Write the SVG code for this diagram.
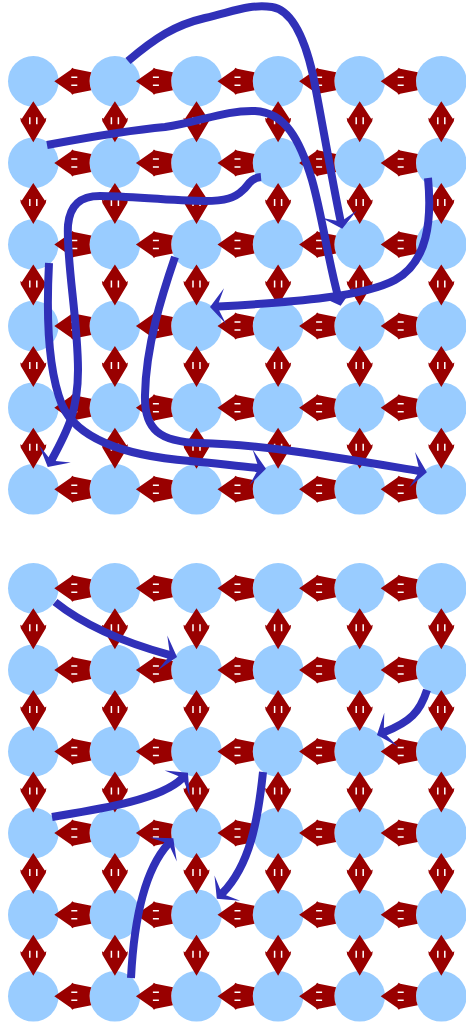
<svg xmlns="http://www.w3.org/2000/svg" width="466" height="1023" viewBox="0 0 466 1023">
<style>
.n{fill:#99ccff}
.ar{fill:#990000}
.wd{stroke:#ffffff;stroke-width:1.5;fill:none}
.c{fill:none;stroke:#3030b8;stroke-width:8;marker-end:url(#ah)}
</style>
<defs>
<marker id="ah" viewBox="-20 -20 40 40" markerWidth="40" markerHeight="40" refX="0" refY="0" orient="auto" markerUnits="userSpaceOnUse">
<path d="M8,0 L-7,-18 L-1,-4 L-1,4 L-7,18 Z" fill="#3030b8"/>
</marker>
<g id="ha"><path class="ar" d="M21,0 L37.5,-11.5 L39,-13.5 L40.5,-12.5 L58,-9 A25.3,25.3 0 0 0 58,9 L40.5,12.5 L39,13.5 L37.5,11.5 Z"/><path class="wd" d="M38,-4h6M38,4h6"/></g>
<g id="va"><path class="ar" d="M0,20 L-11.5,37.5 L-13,36.5 L-12.5,40 L0,61 L12.5,40 L13,36.5 L11.5,37.5 Z"/><path class="wd" d="M-3.5,36v7M3.5,36v7"/></g>
</defs>
<rect width="466" height="1023" fill="#ffffff"/>
<g id="nodes-top">
<g id="t11"><circle class="n" cx="33.3" cy="81.3" r="25.3"/></g>
<g id="t12"><circle class="n" cx="114.9" cy="81.3" r="25.3"/></g>
<g id="t13"><circle class="n" cx="196.5" cy="81.3" r="25.3"/></g>
<g id="t14"><circle class="n" cx="278.1" cy="81.3" r="25.3"/></g>
<g id="t15"><circle class="n" cx="359.7" cy="81.3" r="25.3"/></g>
<g id="t16"><circle class="n" cx="441.3" cy="81.3" r="25.3"/></g>
<g id="t21"><circle class="n" cx="33.3" cy="162.9" r="25.3"/></g>
<g id="t22"><circle class="n" cx="114.9" cy="162.9" r="25.3"/></g>
<g id="t23"><circle class="n" cx="196.5" cy="162.9" r="25.3"/></g>
<g id="t24"><circle class="n" cx="278.1" cy="162.9" r="25.3"/></g>
<g id="t25"><circle class="n" cx="359.7" cy="162.9" r="25.3"/></g>
<g id="t26"><circle class="n" cx="441.3" cy="162.9" r="25.3"/></g>
<g id="t31"><circle class="n" cx="33.3" cy="244.5" r="25.3"/></g>
<g id="t32"><circle class="n" cx="114.9" cy="244.5" r="25.3"/></g>
<g id="t33"><circle class="n" cx="196.5" cy="244.5" r="25.3"/></g>
<g id="t34"><circle class="n" cx="278.1" cy="244.5" r="25.3"/></g>
<g id="t35"><circle class="n" cx="359.7" cy="244.5" r="25.3"/></g>
<g id="t36"><circle class="n" cx="441.3" cy="244.5" r="25.3"/></g>
<g id="t41"><circle class="n" cx="33.3" cy="326.1" r="25.3"/></g>
<g id="t42"><circle class="n" cx="114.9" cy="326.1" r="25.3"/></g>
<g id="t43"><circle class="n" cx="196.5" cy="326.1" r="25.3"/></g>
<g id="t44"><circle class="n" cx="278.1" cy="326.1" r="25.3"/></g>
<g id="t45"><circle class="n" cx="359.7" cy="326.1" r="25.3"/></g>
<g id="t46"><circle class="n" cx="441.3" cy="326.1" r="25.3"/></g>
<g id="t51"><circle class="n" cx="33.3" cy="407.7" r="25.3"/></g>
<g id="t52"><circle class="n" cx="114.9" cy="407.7" r="25.3"/></g>
<g id="t53"><circle class="n" cx="196.5" cy="407.7" r="25.3"/></g>
<g id="t54"><circle class="n" cx="278.1" cy="407.7" r="25.3"/></g>
<g id="t55"><circle class="n" cx="359.7" cy="407.7" r="25.3"/></g>
<g id="t56"><circle class="n" cx="441.3" cy="407.7" r="25.3"/></g>
<g id="t61"><circle class="n" cx="33.3" cy="489.3" r="25.3"/></g>
<g id="t62"><circle class="n" cx="114.9" cy="489.3" r="25.3"/></g>
<g id="t63"><circle class="n" cx="196.5" cy="489.3" r="25.3"/></g>
<g id="t64"><circle class="n" cx="278.1" cy="489.3" r="25.3"/></g>
<g id="t65"><circle class="n" cx="359.7" cy="489.3" r="25.3"/></g>
<g id="t66"><circle class="n" cx="441.3" cy="489.3" r="25.3"/></g>
</g>
<g id="nodes-bottom">
<g id="b11"><circle class="n" cx="33.3" cy="588.3" r="25.3"/></g>
<g id="b12"><circle class="n" cx="114.9" cy="588.3" r="25.3"/></g>
<g id="b13"><circle class="n" cx="196.5" cy="588.3" r="25.3"/></g>
<g id="b14"><circle class="n" cx="278.1" cy="588.3" r="25.3"/></g>
<g id="b15"><circle class="n" cx="359.7" cy="588.3" r="25.3"/></g>
<g id="b16"><circle class="n" cx="441.3" cy="588.3" r="25.3"/></g>
<g id="b21"><circle class="n" cx="33.3" cy="669.9" r="25.3"/></g>
<g id="b22"><circle class="n" cx="114.9" cy="669.9" r="25.3"/></g>
<g id="b23"><circle class="n" cx="196.5" cy="669.9" r="25.3"/></g>
<g id="b24"><circle class="n" cx="278.1" cy="669.9" r="25.3"/></g>
<g id="b25"><circle class="n" cx="359.7" cy="669.9" r="25.3"/></g>
<g id="b26"><circle class="n" cx="441.3" cy="669.9" r="25.3"/></g>
<g id="b31"><circle class="n" cx="33.3" cy="751.5" r="25.3"/></g>
<g id="b32"><circle class="n" cx="114.9" cy="751.5" r="25.3"/></g>
<g id="b33"><circle class="n" cx="196.5" cy="751.5" r="25.3"/></g>
<g id="b34"><circle class="n" cx="278.1" cy="751.5" r="25.3"/></g>
<g id="b35"><circle class="n" cx="359.7" cy="751.5" r="25.3"/></g>
<g id="b36"><circle class="n" cx="441.3" cy="751.5" r="25.3"/></g>
<g id="b41"><circle class="n" cx="33.3" cy="833.1" r="25.3"/></g>
<g id="b42"><circle class="n" cx="114.9" cy="833.1" r="25.3"/></g>
<g id="b43"><circle class="n" cx="196.5" cy="833.1" r="25.3"/></g>
<g id="b44"><circle class="n" cx="278.1" cy="833.1" r="25.3"/></g>
<g id="b45"><circle class="n" cx="359.7" cy="833.1" r="25.3"/></g>
<g id="b46"><circle class="n" cx="441.3" cy="833.1" r="25.3"/></g>
<g id="b51"><circle class="n" cx="33.3" cy="914.7" r="25.3"/></g>
<g id="b52"><circle class="n" cx="114.9" cy="914.7" r="25.3"/></g>
<g id="b53"><circle class="n" cx="196.5" cy="914.7" r="25.3"/></g>
<g id="b54"><circle class="n" cx="278.1" cy="914.7" r="25.3"/></g>
<g id="b55"><circle class="n" cx="359.7" cy="914.7" r="25.3"/></g>
<g id="b56"><circle class="n" cx="441.3" cy="914.7" r="25.3"/></g>
<g id="b61"><circle class="n" cx="33.3" cy="996.3" r="25.3"/></g>
<g id="b62"><circle class="n" cx="114.9" cy="996.3" r="25.3"/></g>
<g id="b63"><circle class="n" cx="196.5" cy="996.3" r="25.3"/></g>
<g id="b64"><circle class="n" cx="278.1" cy="996.3" r="25.3"/></g>
<g id="b65"><circle class="n" cx="359.7" cy="996.3" r="25.3"/></g>
<g id="b66"><circle class="n" cx="441.3" cy="996.3" r="25.3"/></g>
</g>
<g id="links">
<use href="#ha" x="33.3" y="81.3"/><use href="#ha" x="114.9" y="81.3"/><use href="#ha" x="196.5" y="81.3"/><use href="#ha" x="278.1" y="81.3"/><use href="#ha" x="359.7" y="81.3"/>
<use href="#ha" x="33.3" y="162.9"/><use href="#ha" x="114.9" y="162.9"/><use href="#ha" x="196.5" y="162.9"/><use href="#ha" x="278.1" y="162.9"/><use href="#ha" x="359.7" y="162.9"/>
<use href="#ha" x="33.3" y="244.5"/><use href="#ha" x="114.9" y="244.5"/><use href="#ha" x="196.5" y="244.5"/><use href="#ha" x="278.1" y="244.5"/><use href="#ha" x="359.7" y="244.5"/>
<use href="#ha" x="33.3" y="326.1"/><use href="#ha" x="114.9" y="326.1"/><use href="#ha" x="196.5" y="326.1"/><use href="#ha" x="278.1" y="326.1"/><use href="#ha" x="359.7" y="326.1"/>
<use href="#ha" x="33.3" y="407.7"/><use href="#ha" x="114.9" y="407.7"/><use href="#ha" x="196.5" y="407.7"/><use href="#ha" x="278.1" y="407.7"/><use href="#ha" x="359.7" y="407.7"/>
<use href="#ha" x="33.3" y="489.3"/><use href="#ha" x="114.9" y="489.3"/><use href="#ha" x="196.5" y="489.3"/><use href="#ha" x="278.1" y="489.3"/><use href="#ha" x="359.7" y="489.3"/>
<use href="#va" x="33.3" y="81.3"/><use href="#va" x="33.3" y="162.9"/><use href="#va" x="33.3" y="244.5"/><use href="#va" x="33.3" y="326.1"/><use href="#va" x="33.3" y="407.7"/>
<use href="#va" x="114.9" y="81.3"/><use href="#va" x="114.9" y="162.9"/><use href="#va" x="114.9" y="244.5"/><use href="#va" x="114.9" y="326.1"/><use href="#va" x="114.9" y="407.7"/>
<use href="#va" x="196.5" y="81.3"/><use href="#va" x="196.5" y="162.9"/><use href="#va" x="196.5" y="244.5"/><use href="#va" x="196.5" y="326.1"/><use href="#va" x="196.5" y="407.7"/>
<use href="#va" x="278.1" y="81.3"/><use href="#va" x="278.1" y="162.9"/><use href="#va" x="278.1" y="244.5"/><use href="#va" x="278.1" y="326.1"/><use href="#va" x="278.1" y="407.7"/>
<use href="#va" x="359.7" y="81.3"/><use href="#va" x="359.7" y="162.9"/><use href="#va" x="359.7" y="244.5"/><use href="#va" x="359.7" y="326.1"/><use href="#va" x="359.7" y="407.7"/>
<use href="#va" x="441.3" y="81.3"/><use href="#va" x="441.3" y="162.9"/><use href="#va" x="441.3" y="244.5"/><use href="#va" x="441.3" y="326.1"/><use href="#va" x="441.3" y="407.7"/>
<use href="#ha" x="33.3" y="588.3"/><use href="#ha" x="114.9" y="588.3"/><use href="#ha" x="196.5" y="588.3"/><use href="#ha" x="278.1" y="588.3"/><use href="#ha" x="359.7" y="588.3"/>
<use href="#ha" x="33.3" y="669.9"/><use href="#ha" x="114.9" y="669.9"/><use href="#ha" x="196.5" y="669.9"/><use href="#ha" x="278.1" y="669.9"/><use href="#ha" x="359.7" y="669.9"/>
<use href="#ha" x="33.3" y="751.5"/><use href="#ha" x="114.9" y="751.5"/><use href="#ha" x="196.5" y="751.5"/><use href="#ha" x="278.1" y="751.5"/><use href="#ha" x="359.7" y="751.5"/>
<use href="#ha" x="33.3" y="833.1"/><use href="#ha" x="114.9" y="833.1"/><use href="#ha" x="196.5" y="833.1"/><use href="#ha" x="278.1" y="833.1"/><use href="#ha" x="359.7" y="833.1"/>
<use href="#ha" x="33.3" y="914.7"/><use href="#ha" x="114.9" y="914.7"/><use href="#ha" x="196.5" y="914.7"/><use href="#ha" x="278.1" y="914.7"/><use href="#ha" x="359.7" y="914.7"/>
<use href="#ha" x="33.3" y="996.3"/><use href="#ha" x="114.9" y="996.3"/><use href="#ha" x="196.5" y="996.3"/><use href="#ha" x="278.1" y="996.3"/><use href="#ha" x="359.7" y="996.3"/>
<use href="#va" x="33.3" y="588.3"/><use href="#va" x="33.3" y="669.9"/><use href="#va" x="33.3" y="751.5"/><use href="#va" x="33.3" y="833.1"/><use href="#va" x="33.3" y="914.7"/>
<use href="#va" x="114.9" y="588.3"/><use href="#va" x="114.9" y="669.9"/><use href="#va" x="114.9" y="751.5"/><use href="#va" x="114.9" y="833.1"/><use href="#va" x="114.9" y="914.7"/>
<use href="#va" x="196.5" y="588.3"/><use href="#va" x="196.5" y="669.9"/><use href="#va" x="196.5" y="751.5"/><use href="#va" x="196.5" y="833.1"/><use href="#va" x="196.5" y="914.7"/>
<use href="#va" x="278.1" y="588.3"/><use href="#va" x="278.1" y="669.9"/><use href="#va" x="278.1" y="751.5"/><use href="#va" x="278.1" y="833.1"/><use href="#va" x="278.1" y="914.7"/>
<use href="#va" x="359.7" y="588.3"/><use href="#va" x="359.7" y="669.9"/><use href="#va" x="359.7" y="751.5"/><use href="#va" x="359.7" y="833.1"/><use href="#va" x="359.7" y="914.7"/>
<use href="#va" x="441.3" y="588.3"/><use href="#va" x="441.3" y="669.9"/><use href="#va" x="441.3" y="751.5"/><use href="#va" x="441.3" y="833.1"/><use href="#va" x="441.3" y="914.7"/>
</g>
<g id="paths">
<path class="c" d="M128,61 C155,38 175,25 205,18 C235,11 250,4 272,7 C292,10 305,40 313,75 C320,110 332,180 340.6,221"/>
<path class="c" d="M47,145 C90,137 130,130 165,127 C200,122 225,110 255,111 C285,112 300,140 312,180 C322,215 328,260 338.5,298"/>
<path class="c" d="M428,178 C432,220 428,262 395,280 C365,296 300,302 218,306.5"/>
<path class="c" d="M261,177 C250,178 248,186 243,190 C235,198 225,201 205,201 C170,201 130,196 100,196 C80,196 70,205 68,225 C66,260 78,320 78,370 C78,410 68,430 51.6,460"/>
<path class="c" d="M49,263 C46,320 48,370 62,405 C80,445 140,457 190,461 C215,463 235,466 258,468"/>
<path class="c" d="M175,257 C162,295 146,345 145,395 C144,430 160,442 200,443 C260,444 340,458 419,471"/>
<path class="c" d="M55,602 C80,622 115,640 169.3,654.8"/>
<path class="c" d="M427,690 C420,712 410,722 384.4,732.1"/>
<path class="c" d="M52,817 C100,809 160,800 182.2,778.4"/>
<path class="c" d="M131,978 C134,920 145,870 168,844.2"/>
<path class="c" d="M263,772 C258,820 250,865 222.4,893.1"/>
</g>
</svg>
